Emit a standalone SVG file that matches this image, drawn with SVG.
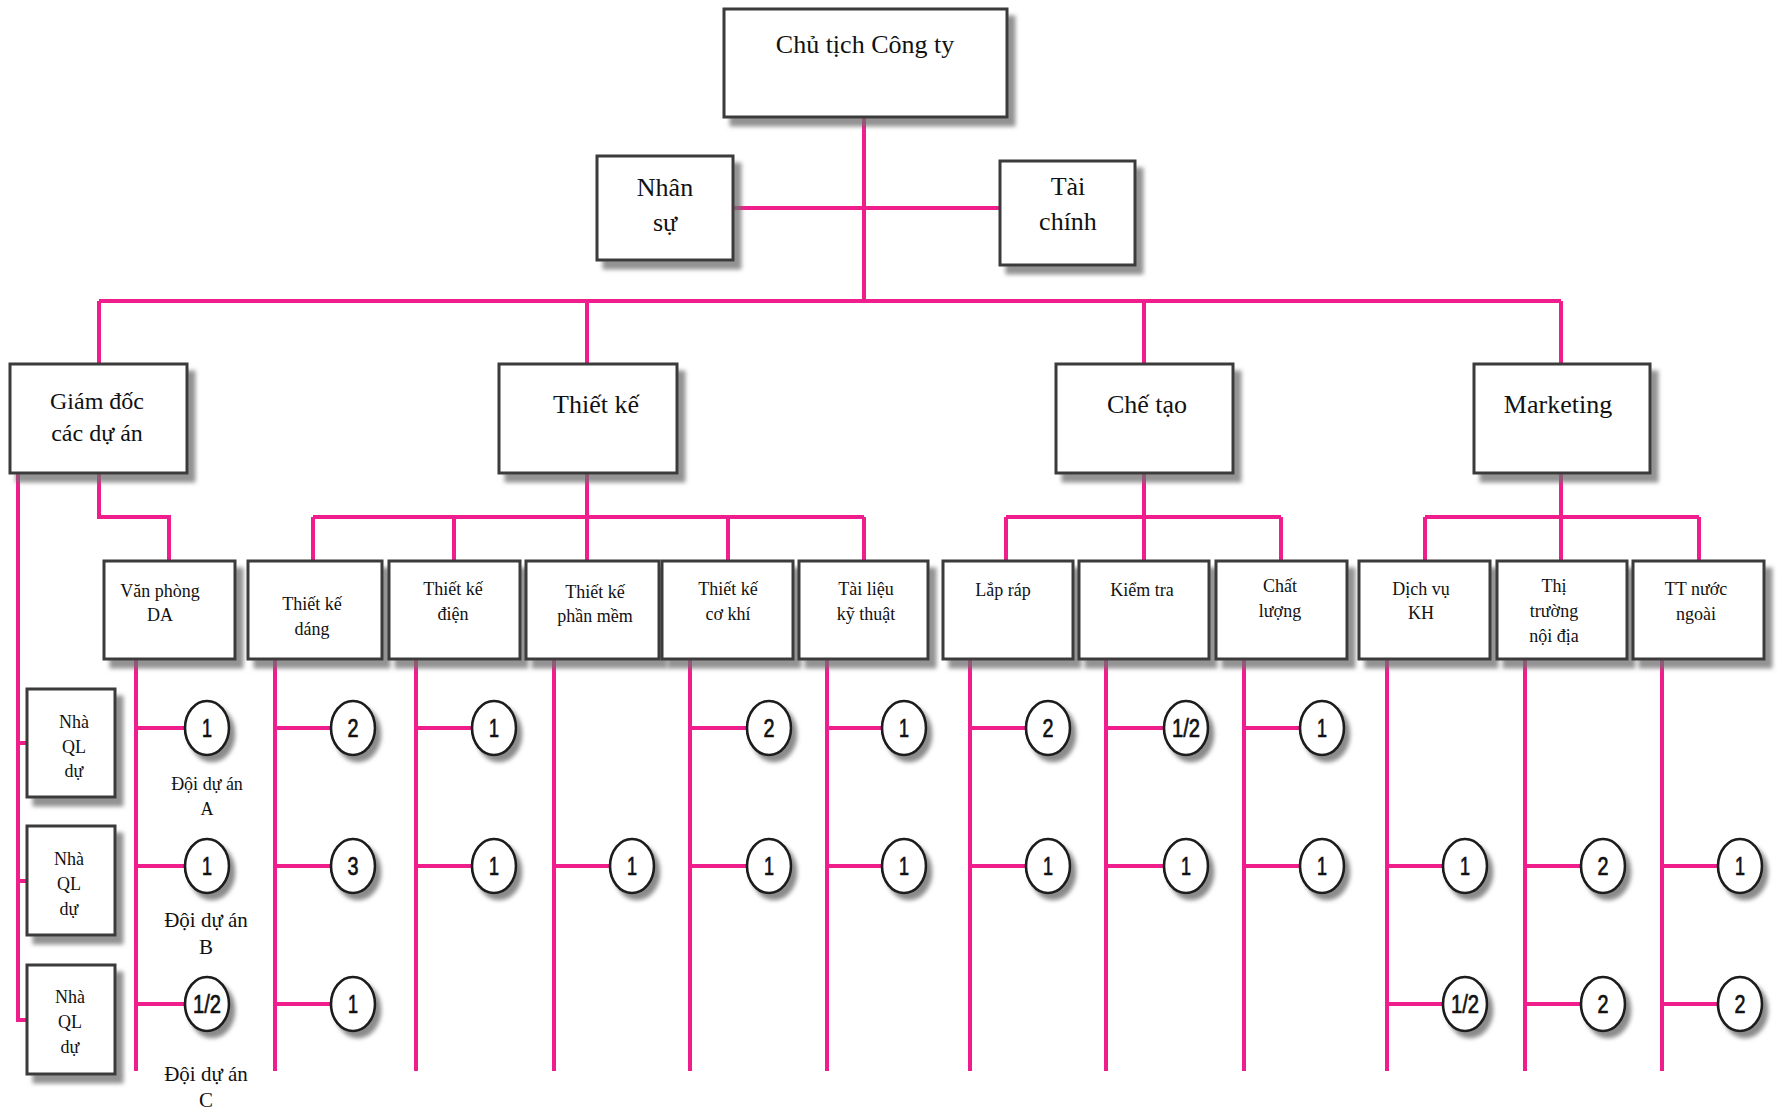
<svg xmlns="http://www.w3.org/2000/svg" width="1783" height="1110" viewBox="0 0 1783 1110">
  <style>
    .box { fill: #ffffff; stroke: #3a3a3a; stroke-width: 3; filter: url(#shadow); }
    .t { font-family: "Liberation Serif", "Times New Roman", serif; fill: #111; text-anchor: middle; }
    .big { font-size: 26px; }
    .mid { font-size: 24px; }
    .sm { font-size: 18px; }
    .lnk { fill: none; stroke: #f01e8c; stroke-width: 4; stroke-linecap: butt; stroke-linejoin: miter; }
    .cir { fill: #ffffff; stroke: #1a1a1a; stroke-width: 2.6; filter: url(#cshadow); }
    .num { font-family: "Liberation Sans Narrow", "Liberation Sans", Arial, sans-serif; font-size: 25px; fill: #111; stroke: #111; stroke-width: 0.7; text-anchor: middle; }
  </style>
  <defs>
    <filter id="shadow" x="-10%" y="-10%" width="130%" height="140%">
      <feDropShadow dx="7" dy="8" stdDeviation="2" flood-color="#6e6e6e" flood-opacity="0.75"/>
    </filter>
    <filter id="cshadow" x="-30%" y="-30%" width="170%" height="170%">
      <feDropShadow dx="5" dy="6" stdDeviation="2" flood-color="#6e6e6e" flood-opacity="0.8"/>
    </filter>
  </defs>
  <rect width="1783" height="1110" fill="#ffffff"/>

  <!-- connectors -->
  <g id="connectors" class="lnk">
    <path d="M864,117 V301"/>
    <path d="M733,208 H1000"/>
    <path d="M99,301 H1561"/>
    <path d="M99,301 V364 M587,301 V364 M1144,301 V364 M1561,301 V364"/>
    <!-- project director branch -->
    <path d="M99,473 V517 H169 V561"/>
    <path d="M18,473 V1020 H27 M18,743 H27 M18,881 H27"/>
    <!-- design branch -->
    <path d="M587,473 V517 M313,517 H864"/>
    <path d="M313,517 V561 M454,517 V561 M587,517 V561 M728,517 V561 M864,517 V561"/>
    <!-- manufacturing branch -->
    <path d="M1144,473 V517 M1006,517 H1281"/>
    <path d="M1006,517 V561 M1144,517 V561 M1281,517 V561"/>
    <!-- marketing branch -->
    <path d="M1561,473 V517 M1425,517 H1699"/>
    <path d="M1425,517 V561 M1561,517 V561 M1699,517 V561"/>
    <!-- staffing columns -->
    <path d="M136,660 V1071 M275,660 V1071 M416,660 V1071 M554,660 V1071 M690,660 V1071 M827,660 V1071 M970,660 V1071 M1106,660 V1071 M1244,660 V1071 M1387,660 V1071 M1525,660 V1071 M1662,660 V1071"/>
    <!-- stubs to staff circles -->
    <path d="M136,728 H185 M136,866 H185 M136,1004 H185"/>
    <path d="M275,728 H331 M275,866 H331 M275,1004 H331"/>
    <path d="M416,728 H472 M416,866 H472"/>
    <path d="M554,866 H610"/>
    <path d="M690,728 H747 M690,866 H747"/>
    <path d="M827,728 H882 M827,866 H882"/>
    <path d="M970,728 H1026 M970,866 H1026"/>
    <path d="M1106,728 H1164 M1106,866 H1164"/>
    <path d="M1244,728 H1300 M1244,866 H1300"/>
    <path d="M1387,866 H1443 M1387,1004 H1443"/>
    <path d="M1525,866 H1581 M1525,1004 H1581"/>
    <path d="M1662,866 H1718 M1662,1004 H1718"/>
  </g>

  <!-- top level -->
  <g id="chu-tich">
    <rect class="box" x="724" y="9" width="283" height="108"/>
    <text class="t big" x="865" y="53">Chủ tịch Công ty</text>
  </g>
  <g id="nhan-su">
    <rect class="box" x="597" y="156" width="136" height="104"/>
    <text class="t big" x="665" y="196">Nhân</text>
    <text class="t big" x="665" y="231">sự</text>
  </g>
  <g id="tai-chinh">
    <rect class="box" x="1000" y="161" width="135" height="104"/>
    <text class="t big" x="1068" y="195">Tài</text>
    <text class="t big" x="1068" y="230">chính</text>
  </g>

  <!-- second level -->
  <g id="giam-doc">
    <rect class="box" x="10" y="364" width="177" height="109"/>
    <text class="t mid" x="97" y="409">Giám đốc</text>
    <text class="t mid" x="97" y="441">các dự án</text>
  </g>
  <g id="thiet-ke">
    <rect class="box" x="499" y="364" width="178" height="109"/>
    <text class="t big" x="596" y="413">Thiết kế</text>
  </g>
  <g id="che-tao">
    <rect class="box" x="1056" y="364" width="177" height="109"/>
    <text class="t big" x="1147" y="413">Chế tạo</text>
  </g>
  <g id="marketing">
    <rect class="box" x="1474" y="364" width="176" height="109"/>
    <text class="t big" x="1558" y="413">Marketing</text>
  </g>

  <!-- third level -->
  <g id="van-phong-da">
    <rect class="box" x="104" y="561" width="131" height="98"/>
    <text class="t sm" x="160" y="597">Văn phòng</text>
    <text class="t sm" x="160" y="621">DA</text>
  </g>
  <g id="tk-dang">
    <rect class="box" x="248" y="561" width="134" height="98"/>
    <text class="t sm" x="312" y="610">Thiết kế</text>
    <text class="t sm" x="312" y="635">dáng</text>
  </g>
  <g id="tk-dien">
    <rect class="box" x="389" y="561" width="131" height="98"/>
    <text class="t sm" x="453" y="595">Thiết kế</text>
    <text class="t sm" x="453" y="620">điện</text>
  </g>
  <g id="tk-phan-mem">
    <rect class="box" x="526" y="561" width="133" height="98"/>
    <text class="t sm" x="595" y="598">Thiết kế</text>
    <text class="t sm" x="595" y="622">phần mềm</text>
  </g>
  <g id="tk-co-khi">
    <rect class="box" x="662" y="561" width="131" height="98"/>
    <text class="t sm" x="728" y="595">Thiết kế</text>
    <text class="t sm" x="728" y="620">cơ khí</text>
  </g>
  <g id="tai-lieu">
    <rect class="box" x="799" y="561" width="129" height="98"/>
    <text class="t sm" x="866" y="595">Tài liệu</text>
    <text class="t sm" x="866" y="620">kỹ thuật</text>
  </g>
  <g id="lap-rap">
    <rect class="box" x="943" y="561" width="130" height="98"/>
    <text class="t sm" x="1003" y="596">Lắp ráp</text>
  </g>
  <g id="kiem-tra">
    <rect class="box" x="1079" y="561" width="130" height="98"/>
    <text class="t sm" x="1142" y="596">Kiểm tra</text>
  </g>
  <g id="chat-luong">
    <rect class="box" x="1216" y="561" width="131" height="98"/>
    <text class="t sm" x="1280" y="592">Chất</text>
    <text class="t sm" x="1280" y="617">lượng</text>
  </g>
  <g id="dich-vu-kh">
    <rect class="box" x="1359" y="561" width="131" height="98"/>
    <text class="t sm" x="1421" y="595">Dịch vụ</text>
    <text class="t sm" x="1421" y="619">KH</text>
  </g>
  <g id="thi-truong">
    <rect class="box" x="1497" y="561" width="130" height="98"/>
    <text class="t sm" x="1554" y="592">Thị</text>
    <text class="t sm" x="1554" y="617">trường</text>
    <text class="t sm" x="1554" y="642">nội địa</text>
  </g>
  <g id="tt-nuoc-ngoai">
    <rect class="box" x="1633" y="561" width="131" height="98"/>
    <text class="t sm" x="1696" y="595">TT nước</text>
    <text class="t sm" x="1696" y="620">ngoài</text>
  </g>

  <!-- project managers -->
  <g id="nha-ql-1">
    <rect class="box" x="27" y="689" width="88" height="108"/>
    <text class="t sm" x="74" y="728">Nhà</text>
    <text class="t sm" x="74" y="753">QL</text>
    <text class="t sm" x="74" y="777">dự</text>
  </g>
  <g id="nha-ql-2">
    <rect class="box" x="27" y="826" width="88" height="109"/>
    <text class="t sm" x="69" y="865">Nhà</text>
    <text class="t sm" x="69" y="890">QL</text>
    <text class="t sm" x="69" y="915">dự</text>
  </g>
  <g id="nha-ql-3">
    <rect class="box" x="27" y="965" width="88" height="109"/>
    <text class="t sm" x="70" y="1003">Nhà</text>
    <text class="t sm" x="70" y="1028">QL</text>
    <text class="t sm" x="70" y="1053">dự</text>
  </g>

  <!-- project team labels -->
  <g id="doi-a">
    <text class="t sm" x="207" y="790">Đội dự án</text>
    <text class="t sm" x="207" y="815">A</text>
  </g>
  <g id="doi-b">
    <text class="t" font-size="21" x="206" y="927">Đội dự án</text>
    <text class="t" font-size="21" x="206" y="954">B</text>
  </g>
  <g id="doi-c">
    <text class="t" font-size="21" x="206" y="1081">Đội dự án</text>
    <text class="t" font-size="21" x="206" y="1107">C</text>
  </g>

  <!-- staff counts -->
  <g id="staff-van-phong">
    <ellipse class="cir" cx="207" cy="728" rx="22" ry="27"/><text class="num" x="207" y="737" textLength="10" lengthAdjust="spacingAndGlyphs">1</text>
    <ellipse class="cir" cx="207" cy="866" rx="22" ry="27"/><text class="num" x="207" y="875" textLength="10" lengthAdjust="spacingAndGlyphs">1</text>
    <ellipse class="cir" cx="207" cy="1004" rx="22" ry="27"/><text class="num" x="207" y="1013" textLength="28" lengthAdjust="spacingAndGlyphs">1/2</text>
  </g>
  <g id="staff-tk-dang">
    <ellipse class="cir" cx="353" cy="728" rx="22" ry="27"/><text class="num" x="353" y="737" textLength="11" lengthAdjust="spacingAndGlyphs">2</text>
    <ellipse class="cir" cx="353" cy="866" rx="22" ry="27"/><text class="num" x="353" y="875" textLength="11" lengthAdjust="spacingAndGlyphs">3</text>
    <ellipse class="cir" cx="353" cy="1004" rx="22" ry="27"/><text class="num" x="353" y="1013" textLength="10" lengthAdjust="spacingAndGlyphs">1</text>
  </g>
  <g id="staff-tk-dien">
    <ellipse class="cir" cx="494" cy="728" rx="22" ry="27"/><text class="num" x="494" y="737" textLength="10" lengthAdjust="spacingAndGlyphs">1</text>
    <ellipse class="cir" cx="494" cy="866" rx="22" ry="27"/><text class="num" x="494" y="875" textLength="10" lengthAdjust="spacingAndGlyphs">1</text>
  </g>
  <g id="staff-tk-phan-mem">
    <ellipse class="cir" cx="632" cy="866" rx="22" ry="27"/><text class="num" x="632" y="875" textLength="10" lengthAdjust="spacingAndGlyphs">1</text>
  </g>
  <g id="staff-tk-co-khi">
    <ellipse class="cir" cx="769" cy="728" rx="22" ry="27"/><text class="num" x="769" y="737" textLength="11" lengthAdjust="spacingAndGlyphs">2</text>
    <ellipse class="cir" cx="769" cy="866" rx="22" ry="27"/><text class="num" x="769" y="875" textLength="10" lengthAdjust="spacingAndGlyphs">1</text>
  </g>
  <g id="staff-tai-lieu">
    <ellipse class="cir" cx="904" cy="728" rx="22" ry="27"/><text class="num" x="904" y="737" textLength="10" lengthAdjust="spacingAndGlyphs">1</text>
    <ellipse class="cir" cx="904" cy="866" rx="22" ry="27"/><text class="num" x="904" y="875" textLength="10" lengthAdjust="spacingAndGlyphs">1</text>
  </g>
  <g id="staff-lap-rap">
    <ellipse class="cir" cx="1048" cy="728" rx="22" ry="27"/><text class="num" x="1048" y="737" textLength="11" lengthAdjust="spacingAndGlyphs">2</text>
    <ellipse class="cir" cx="1048" cy="866" rx="22" ry="27"/><text class="num" x="1048" y="875" textLength="10" lengthAdjust="spacingAndGlyphs">1</text>
  </g>
  <g id="staff-kiem-tra">
    <ellipse class="cir" cx="1186" cy="728" rx="22" ry="27"/><text class="num" x="1186" y="737" textLength="28" lengthAdjust="spacingAndGlyphs">1/2</text>
    <ellipse class="cir" cx="1186" cy="866" rx="22" ry="27"/><text class="num" x="1186" y="875" textLength="10" lengthAdjust="spacingAndGlyphs">1</text>
  </g>
  <g id="staff-chat-luong">
    <ellipse class="cir" cx="1322" cy="728" rx="22" ry="27"/><text class="num" x="1322" y="737" textLength="10" lengthAdjust="spacingAndGlyphs">1</text>
    <ellipse class="cir" cx="1322" cy="866" rx="22" ry="27"/><text class="num" x="1322" y="875" textLength="10" lengthAdjust="spacingAndGlyphs">1</text>
  </g>
  <g id="staff-dich-vu">
    <ellipse class="cir" cx="1465" cy="866" rx="22" ry="27"/><text class="num" x="1465" y="875" textLength="10" lengthAdjust="spacingAndGlyphs">1</text>
    <ellipse class="cir" cx="1465" cy="1004" rx="22" ry="27"/><text class="num" x="1465" y="1013" textLength="28" lengthAdjust="spacingAndGlyphs">1/2</text>
  </g>
  <g id="staff-thi-truong">
    <ellipse class="cir" cx="1603" cy="866" rx="22" ry="27"/><text class="num" x="1603" y="875" textLength="11" lengthAdjust="spacingAndGlyphs">2</text>
    <ellipse class="cir" cx="1603" cy="1004" rx="22" ry="27"/><text class="num" x="1603" y="1013" textLength="11" lengthAdjust="spacingAndGlyphs">2</text>
  </g>
  <g id="staff-tt-nuoc-ngoai">
    <ellipse class="cir" cx="1740" cy="866" rx="22" ry="27"/><text class="num" x="1740" y="875" textLength="10" lengthAdjust="spacingAndGlyphs">1</text>
    <ellipse class="cir" cx="1740" cy="1004" rx="22" ry="27"/><text class="num" x="1740" y="1013" textLength="11" lengthAdjust="spacingAndGlyphs">2</text>
  </g>
</svg>
